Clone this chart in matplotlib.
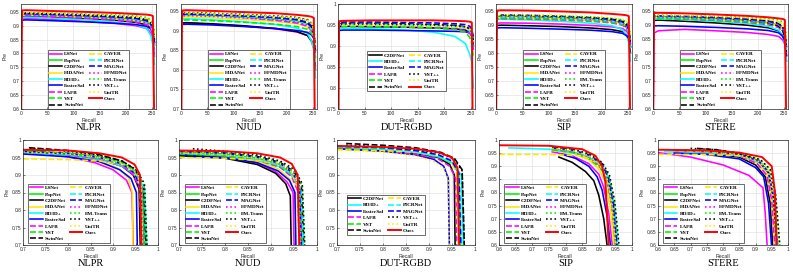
import matplotlib
matplotlib.use('Agg')
import matplotlib.pyplot as plt
from matplotlib.ticker import FormatStrFormatter, MultipleLocator

# ---------------- data ----------------
METHODS = ['LSNet', 'PopNet', 'C2DFNet', 'HiDANet', 'RD3D+', 'FasterSal', 'LAFB', 'VST', 'SwinNet',
           'CAVER', 'PICRNet', 'MAGNet', 'HFMDNet', 'EM-Trans', 'VST++', 'UniTR', 'Ours']
DUT_METHODS = ['C2DFNet', 'RD3D+', 'FasterSal', 'LAFB', 'VST', 'SwinNet',
               'CAVER', 'PICRNet', 'MAGNet', 'VST++', 'UniTR', 'Ours']
DATASETS = ['NLPR', 'NJUD', 'DUT-RGBD', 'SIP', 'STERE']

# threshold axis for the top row (precision vs threshold)
THRESH = [0, 2, 10, 60, 120, 180, 220, 240, 248, 252, 255]

NLPR_TOP = {
    'LSNet':     [0.90, 0.925, 0.926, 0.922, 0.916, 0.908, 0.900, 0.890, 0.875, 0.855, 0.79],
    'PopNet':    [0.92, 0.940, 0.941, 0.938, 0.934, 0.928, 0.922, 0.915, 0.905, 0.890, 0.84],
    'C2DFNet':   [0.91, 0.935, 0.936, 0.932, 0.927, 0.920, 0.912, 0.903, 0.890, 0.875, 0.83],
    'HiDANet':   [0.915, 0.937, 0.938, 0.935, 0.930, 0.924, 0.918, 0.910, 0.900, 0.885, 0.84],
    'RD3D+':     [0.88, 0.928, 0.930, 0.927, 0.921, 0.913, 0.904, 0.890, 0.865, 0.830, 0.76],
    'FasterSal': [0.90, 0.920, 0.921, 0.918, 0.914, 0.909, 0.904, 0.898, 0.888, 0.875, 0.84],
    'LAFB':      [0.915, 0.935, 0.936, 0.932, 0.927, 0.920, 0.913, 0.904, 0.890, 0.870, 0.80],
    'VST':       [0.92, 0.940, 0.941, 0.937, 0.932, 0.926, 0.920, 0.912, 0.900, 0.885, 0.83],
    'SwinNet':   [0.92, 0.943, 0.944, 0.941, 0.937, 0.932, 0.927, 0.920, 0.910, 0.895, 0.85],
    'CAVER':     [0.93, 0.945, 0.946, 0.943, 0.940, 0.936, 0.932, 0.927, 0.920, 0.910, 0.87],
    'PICRNet':   [0.92, 0.940, 0.941, 0.938, 0.934, 0.928, 0.922, 0.914, 0.900, 0.880, 0.81],
    'MAGNet':    [0.92, 0.942, 0.943, 0.940, 0.936, 0.931, 0.926, 0.918, 0.905, 0.890, 0.84],
    'HFMDNet':   [0.92, 0.938, 0.939, 0.936, 0.931, 0.925, 0.919, 0.911, 0.900, 0.885, 0.83],
    'EM-Trans':  [0.93, 0.946, 0.947, 0.945, 0.942, 0.939, 0.935, 0.930, 0.923, 0.912, 0.88],
    'VST++':     [0.925, 0.945, 0.946, 0.943, 0.940, 0.935, 0.930, 0.923, 0.912, 0.898, 0.85],
    'UniTR':     [0.93, 0.946, 0.947, 0.944, 0.940, 0.936, 0.931, 0.925, 0.915, 0.900, 0.86],
    'Ours':      [0.50, 0.955, 0.956, 0.953, 0.950, 0.946, 0.942, 0.940, 0.938, 0.935, 0.50],
}
NJUD_TOP = {
    'LSNet':     [0.90, 0.918, 0.920, 0.917, 0.912, 0.905, 0.897, 0.888, 0.875, 0.860, 0.81],
    'PopNet':    [0.92, 0.940, 0.941, 0.939, 0.935, 0.930, 0.925, 0.918, 0.908, 0.895, 0.85],
    'C2DFNet':   [0.90, 0.920, 0.921, 0.918, 0.913, 0.906, 0.898, 0.888, 0.872, 0.855, 0.80],
    'HiDANet':   [0.915, 0.935, 0.936, 0.933, 0.929, 0.924, 0.918, 0.910, 0.898, 0.882, 0.83],
    'RD3D+':     [0.90, 0.930, 0.931, 0.928, 0.923, 0.916, 0.907, 0.893, 0.872, 0.850, 0.78],
    'FasterSal': [0.90, 0.916, 0.917, 0.915, 0.911, 0.906, 0.901, 0.896, 0.889, 0.880, 0.85],
    'LAFB':      [0.925, 0.945, 0.944, 0.940, 0.934, 0.927, 0.920, 0.912, 0.900, 0.885, 0.83],
    'VST':       [0.91, 0.927, 0.928, 0.926, 0.922, 0.917, 0.911, 0.904, 0.893, 0.880, 0.83],
    'SwinNet':   [0.92, 0.942, 0.943, 0.941, 0.938, 0.933, 0.928, 0.920, 0.908, 0.890, 0.84],
    'CAVER':     [0.93, 0.944, 0.945, 0.943, 0.940, 0.936, 0.932, 0.927, 0.918, 0.905, 0.86],
    'PICRNet':   [0.92, 0.940, 0.941, 0.939, 0.935, 0.930, 0.924, 0.916, 0.902, 0.885, 0.82],
    'MAGNet':    [0.92, 0.942, 0.943, 0.941, 0.938, 0.934, 0.929, 0.922, 0.912, 0.898, 0.86],
    'HFMDNet':   [0.92, 0.938, 0.939, 0.937, 0.933, 0.928, 0.922, 0.915, 0.903, 0.888, 0.84],
    'EM-Trans':  [0.93, 0.945, 0.946, 0.944, 0.941, 0.938, 0.934, 0.929, 0.920, 0.908, 0.87],
    'VST++':     [0.93, 0.946, 0.947, 0.945, 0.942, 0.938, 0.934, 0.928, 0.917, 0.902, 0.86],
    'UniTR':     [0.93, 0.945, 0.946, 0.944, 0.941, 0.937, 0.933, 0.927, 0.918, 0.905, 0.86],
    'Ours':      [0.50, 0.952, 0.953, 0.951, 0.948, 0.945, 0.941, 0.938, 0.936, 0.933, 0.50],
}
DUT_TOP = {
    'C2DFNet':   [0.93, 0.945, 0.946, 0.945, 0.944, 0.942, 0.940, 0.937, 0.932, 0.925, 0.90],
    'RD3D+':     [0.91, 0.940, 0.941, 0.940, 0.938, 0.932, 0.922, 0.905, 0.880, 0.860, 0.80],
    'FasterSal': [0.92, 0.936, 0.937, 0.937, 0.936, 0.935, 0.934, 0.933, 0.930, 0.927, 0.91],
    'LAFB':      [0.93, 0.945, 0.946, 0.946, 0.945, 0.943, 0.940, 0.936, 0.930, 0.920, 0.89],
    'VST':       [0.93, 0.944, 0.945, 0.945, 0.944, 0.942, 0.938, 0.932, 0.920, 0.905, 0.87],
    'SwinNet':   [0.935, 0.952, 0.953, 0.953, 0.952, 0.950, 0.948, 0.945, 0.940, 0.933, 0.91],
    'CAVER':     [0.935, 0.948, 0.949, 0.949, 0.948, 0.947, 0.945, 0.943, 0.940, 0.935, 0.92],
    'PICRNet':   [0.935, 0.950, 0.951, 0.951, 0.950, 0.948, 0.945, 0.941, 0.935, 0.927, 0.90],
    'MAGNet':    [0.94, 0.955, 0.956, 0.956, 0.955, 0.954, 0.952, 0.950, 0.946, 0.940, 0.92],
    'VST++':     [0.935, 0.950, 0.951, 0.951, 0.950, 0.949, 0.947, 0.944, 0.940, 0.933, 0.91],
    'UniTR':     [0.935, 0.948, 0.949, 0.949, 0.948, 0.947, 0.945, 0.942, 0.938, 0.932, 0.91],
    'Ours':      [0.50, 0.958, 0.959, 0.960, 0.960, 0.960, 0.959, 0.958, 0.957, 0.955, 0.50],
}
SIP_TOP = {
    'LSNet':     [0.89, 0.905, 0.906, 0.905, 0.902, 0.897, 0.892, 0.886, 0.876, 0.865, 0.82],
    'PopNet':    [0.91, 0.928, 0.929, 0.928, 0.925, 0.920, 0.914, 0.907, 0.895, 0.880, 0.83],
    'C2DFNet':   [0.88, 0.897, 0.898, 0.896, 0.893, 0.888, 0.882, 0.875, 0.863, 0.850, 0.80],
    'HiDANet':   [0.905, 0.922, 0.923, 0.922, 0.919, 0.915, 0.910, 0.904, 0.894, 0.880, 0.83],
    'RD3D+':     [0.89, 0.918, 0.919, 0.917, 0.912, 0.905, 0.896, 0.882, 0.860, 0.835, 0.77],
    'FasterSal': [0.87, 0.888, 0.889, 0.887, 0.884, 0.880, 0.875, 0.869, 0.860, 0.850, 0.82],
    'LAFB':      [0.905, 0.920, 0.921, 0.920, 0.917, 0.912, 0.906, 0.898, 0.885, 0.870, 0.82],
    'VST':       [0.905, 0.922, 0.923, 0.922, 0.919, 0.914, 0.908, 0.900, 0.888, 0.872, 0.82],
    'SwinNet':   [0.91, 0.930, 0.931, 0.930, 0.927, 0.922, 0.915, 0.905, 0.890, 0.873, 0.82],
    'CAVER':     [0.915, 0.932, 0.933, 0.932, 0.930, 0.926, 0.921, 0.915, 0.905, 0.893, 0.85],
    'PICRNet':   [0.91, 0.928, 0.929, 0.928, 0.925, 0.920, 0.913, 0.904, 0.890, 0.872, 0.81],
    'MAGNet':    [0.915, 0.933, 0.934, 0.933, 0.930, 0.925, 0.919, 0.911, 0.898, 0.882, 0.83],
    'HFMDNet':   [0.91, 0.927, 0.928, 0.927, 0.924, 0.919, 0.913, 0.905, 0.893, 0.878, 0.83],
    'EM-Trans':  [0.915, 0.930, 0.931, 0.931, 0.929, 0.926, 0.922, 0.917, 0.909, 0.898, 0.86],
    'VST++':     [0.915, 0.933, 0.934, 0.933, 0.930, 0.926, 0.920, 0.913, 0.900, 0.885, 0.84],
    'UniTR':     [0.915, 0.935, 0.936, 0.935, 0.933, 0.929, 0.925, 0.919, 0.910, 0.898, 0.86],
    'Ours':      [0.50, 0.950, 0.951, 0.950, 0.947, 0.943, 0.938, 0.935, 0.933, 0.930, 0.50],
}
STERE_TOP = {
    'LSNet':     [0.50, 0.870, 0.878, 0.883, 0.878, 0.872, 0.865, 0.858, 0.845, 0.830, 0.77],
    'PopNet':    [0.91, 0.928, 0.929, 0.927, 0.922, 0.915, 0.907, 0.898, 0.885, 0.870, 0.82],
    'C2DFNet':   [0.90, 0.915, 0.916, 0.912, 0.906, 0.898, 0.889, 0.878, 0.860, 0.840, 0.79],
    'HiDANet':   [0.905, 0.922, 0.923, 0.921, 0.917, 0.911, 0.904, 0.896, 0.884, 0.870, 0.82],
    'RD3D+':     [0.90, 0.920, 0.921, 0.918, 0.912, 0.904, 0.894, 0.880, 0.858, 0.835, 0.77],
    'FasterSal': [0.88, 0.895, 0.896, 0.894, 0.890, 0.885, 0.879, 0.871, 0.858, 0.842, 0.79],
    'LAFB':      [0.905, 0.922, 0.923, 0.920, 0.915, 0.908, 0.900, 0.890, 0.875, 0.858, 0.80],
    'VST':       [0.905, 0.921, 0.922, 0.920, 0.916, 0.910, 0.903, 0.894, 0.880, 0.863, 0.81],
    'SwinNet':   [0.91, 0.928, 0.929, 0.927, 0.922, 0.915, 0.906, 0.895, 0.878, 0.858, 0.80],
    'CAVER':     [0.915, 0.930, 0.931, 0.930, 0.927, 0.922, 0.917, 0.910, 0.900, 0.887, 0.84],
    'PICRNet':   [0.91, 0.925, 0.926, 0.925, 0.921, 0.915, 0.908, 0.900, 0.886, 0.870, 0.81],
    'MAGNet':    [0.915, 0.930, 0.931, 0.929, 0.925, 0.919, 0.912, 0.903, 0.890, 0.874, 0.82],
    'HFMDNet':   [0.91, 0.926, 0.927, 0.925, 0.921, 0.915, 0.908, 0.900, 0.887, 0.872, 0.82],
    'EM-Trans':  [0.915, 0.930, 0.931, 0.931, 0.929, 0.926, 0.922, 0.917, 0.909, 0.899, 0.86],
    'VST++':     [0.915, 0.932, 0.933, 0.931, 0.927, 0.921, 0.914, 0.905, 0.890, 0.873, 0.82],
    'UniTR':     [0.915, 0.932, 0.933, 0.932, 0.929, 0.924, 0.918, 0.911, 0.900, 0.886, 0.84],
    'Ours':      [0.50, 0.941, 0.942, 0.940, 0.936, 0.931, 0.926, 0.922, 0.920, 0.917, 0.50],
}

# bottom row: precision-recall curves, (recall list, precision list)
NLPR_PR = {
    'LSNet':     ([0.72, 0.80, 0.86, 0.90, 0.930, 0.942, 0.948], [0.965, 0.952, 0.935, 0.915, 0.885, 0.85, 0.55]),
    'PopNet':    ([0.70, 0.80, 0.87, 0.92, 0.950, 0.965, 0.972], [0.968, 0.962, 0.952, 0.935, 0.910, 0.87, 0.55]),
    'C2DFNet':   ([0.70, 0.80, 0.87, 0.92, 0.945, 0.958, 0.963], [0.965, 0.958, 0.945, 0.925, 0.900, 0.86, 0.55]),
    'HiDANet':   ([0.70, 0.80, 0.87, 0.91, 0.935, 0.943, 0.945], [0.962, 0.955, 0.940, 0.920, 0.890, 0.85, 0.55]),
    'RD3D+':     ([0.70, 0.80, 0.87, 0.92, 0.950, 0.968, 0.978], [0.962, 0.956, 0.945, 0.925, 0.900, 0.86, 0.55]),
    'FasterSal': ([0.70, 0.80, 0.87, 0.915, 0.940, 0.952, 0.956], [0.960, 0.952, 0.938, 0.915, 0.890, 0.85, 0.55]),
    'LAFB':      ([0.70, 0.80, 0.87, 0.92, 0.945, 0.960, 0.968], [0.966, 0.958, 0.946, 0.928, 0.900, 0.86, 0.55]),
    'VST':       ([0.70, 0.80, 0.87, 0.92, 0.950, 0.967, 0.975], [0.966, 0.960, 0.948, 0.930, 0.905, 0.86, 0.55]),
    'SwinNet':   ([0.713, 0.80, 0.87, 0.92, 0.950, 0.968, 0.978], [0.978, 0.970, 0.958, 0.940, 0.915, 0.87, 0.55]),
    'CAVER':     ([0.70, 0.80, 0.87, 0.92, 0.945, 0.960, 0.966], [0.946, 0.944, 0.940, 0.930, 0.910, 0.87, 0.55]),
    'PICRNet':   ([0.70, 0.80, 0.87, 0.92, 0.950, 0.970, 0.980], [0.966, 0.960, 0.948, 0.930, 0.905, 0.86, 0.55]),
    'MAGNet':    ([0.70, 0.80, 0.87, 0.92, 0.948, 0.962, 0.966], [0.968, 0.962, 0.950, 0.932, 0.905, 0.86, 0.55]),
    'HFMDNet':   ([0.70, 0.80, 0.87, 0.92, 0.950, 0.965, 0.972], [0.966, 0.960, 0.948, 0.930, 0.905, 0.865, 0.55]),
    'EM-Trans':  ([0.70, 0.80, 0.87, 0.92, 0.952, 0.970, 0.980], [0.968, 0.962, 0.952, 0.935, 0.910, 0.87, 0.55]),
    'VST++':     ([0.715, 0.80, 0.87, 0.92, 0.952, 0.970, 0.980], [0.977, 0.968, 0.956, 0.940, 0.915, 0.875, 0.55]),
    'UniTR':     ([0.70, 0.80, 0.87, 0.92, 0.950, 0.963, 0.968], [0.965, 0.960, 0.950, 0.933, 0.908, 0.87, 0.55]),
    'Ours':      ([0.70, 0.80, 0.87, 0.92, 0.948, 0.960, 0.965], [0.972, 0.970, 0.962, 0.950, 0.930, 0.90, 0.55]),
}
NJUD_PR = {
    'LSNet':     ([0.70, 0.80, 0.87, 0.91, 0.935, 0.948, 0.952], [0.962, 0.952, 0.935, 0.910, 0.880, 0.85, 0.55]),
    'PopNet':    ([0.70, 0.80, 0.87, 0.92, 0.945, 0.960, 0.968], [0.965, 0.960, 0.948, 0.930, 0.900, 0.86, 0.55]),
    'C2DFNet':   ([0.70, 0.80, 0.87, 0.91, 0.932, 0.942, 0.946], [0.955, 0.948, 0.930, 0.905, 0.875, 0.84, 0.55]),
    'HiDANet':   ([0.70, 0.80, 0.87, 0.915, 0.940, 0.952, 0.956], [0.962, 0.955, 0.940, 0.918, 0.890, 0.85, 0.55]),
    'RD3D+':     ([0.70, 0.80, 0.87, 0.92, 0.948, 0.965, 0.974], [0.960, 0.955, 0.943, 0.923, 0.895, 0.85, 0.55]),
    'FasterSal': ([0.70, 0.80, 0.87, 0.915, 0.940, 0.952, 0.956], [0.958, 0.950, 0.935, 0.912, 0.885, 0.85, 0.55]),
    'LAFB':      ([0.70, 0.80, 0.87, 0.92, 0.945, 0.958, 0.965], [0.963, 0.956, 0.943, 0.922, 0.895, 0.855, 0.55]),
    'VST':       ([0.70, 0.80, 0.87, 0.92, 0.945, 0.962, 0.970], [0.960, 0.955, 0.943, 0.925, 0.900, 0.86, 0.55]),
    'SwinNet':   ([0.70, 0.80, 0.87, 0.92, 0.950, 0.966, 0.976], [0.968, 0.963, 0.953, 0.936, 0.910, 0.87, 0.55]),
    'CAVER':     ([0.70, 0.80, 0.87, 0.92, 0.945, 0.958, 0.964], [0.950, 0.948, 0.942, 0.930, 0.905, 0.865, 0.55]),
    'PICRNet':   ([0.70, 0.80, 0.87, 0.92, 0.948, 0.965, 0.975], [0.965, 0.960, 0.948, 0.928, 0.900, 0.86, 0.55]),
    'MAGNet':    ([0.70, 0.80, 0.87, 0.92, 0.948, 0.962, 0.970], [0.967, 0.962, 0.951, 0.933, 0.905, 0.865, 0.55]),
    'HFMDNet':   ([0.70, 0.80, 0.87, 0.92, 0.948, 0.962, 0.970], [0.965, 0.960, 0.948, 0.930, 0.903, 0.862, 0.55]),
    'EM-Trans':  ([0.70, 0.80, 0.87, 0.92, 0.950, 0.968, 0.978], [0.966, 0.962, 0.952, 0.935, 0.910, 0.87, 0.55]),
    'VST++':     ([0.73, 0.80, 0.87, 0.92, 0.952, 0.968, 0.978], [0.975, 0.968, 0.957, 0.940, 0.915, 0.875, 0.55]),
    'UniTR':     ([0.70, 0.80, 0.87, 0.92, 0.948, 0.960, 0.966], [0.963, 0.958, 0.948, 0.932, 0.905, 0.865, 0.55]),
    'Ours':      ([0.70, 0.80, 0.87, 0.92, 0.945, 0.958, 0.964], [0.970, 0.968, 0.962, 0.950, 0.932, 0.90, 0.55]),
}
DUT_PR = {
    'C2DFNet':   ([0.70, 0.80, 0.87, 0.92, 0.945, 0.955, 0.958], [0.975, 0.970, 0.962, 0.950, 0.930, 0.90, 0.55]),
    'RD3D+':     ([0.70, 0.80, 0.87, 0.92, 0.950, 0.970, 0.978], [0.978, 0.973, 0.965, 0.952, 0.935, 0.90, 0.55]),
    'FasterSal': ([0.70, 0.80, 0.87, 0.91, 0.932, 0.942, 0.946], [0.975, 0.968, 0.958, 0.945, 0.925, 0.89, 0.55]),
    'LAFB':      ([0.70, 0.80, 0.87, 0.92, 0.945, 0.958, 0.963], [0.975, 0.970, 0.960, 0.946, 0.925, 0.89, 0.55]),
    'VST':       ([0.70, 0.80, 0.87, 0.92, 0.950, 0.965, 0.972], [0.978, 0.973, 0.965, 0.952, 0.933, 0.90, 0.55]),
    'SwinNet':   ([0.72, 0.80, 0.87, 0.925, 0.955, 0.972, 0.980], [0.990, 0.985, 0.978, 0.965, 0.948, 0.915, 0.55]),
    'CAVER':     ([0.70, 0.80, 0.87, 0.92, 0.948, 0.960, 0.966], [0.972, 0.970, 0.965, 0.955, 0.937, 0.905, 0.55]),
    'PICRNet':   ([0.70, 0.80, 0.87, 0.92, 0.950, 0.966, 0.974], [0.980, 0.975, 0.967, 0.955, 0.937, 0.905, 0.55]),
    'MAGNet':    ([0.70, 0.80, 0.87, 0.92, 0.950, 0.965, 0.972], [0.982, 0.978, 0.970, 0.958, 0.940, 0.905, 0.55]),
    'VST++':     ([0.72, 0.80, 0.87, 0.925, 0.955, 0.972, 0.980], [0.985, 0.980, 0.973, 0.962, 0.945, 0.912, 0.55]),
    'UniTR':     ([0.70, 0.80, 0.87, 0.91, 0.932, 0.942, 0.945], [0.972, 0.966, 0.955, 0.940, 0.920, 0.885, 0.55]),
    'Ours':      ([0.70, 0.80, 0.87, 0.92, 0.950, 0.962, 0.968], [0.983, 0.980, 0.975, 0.965, 0.950, 0.92, 0.55]),
}
SIP_PR = {
    'LSNet':     ([0.76, 0.82, 0.87, 0.90, 0.915, 0.930, 0.945], [0.955, 0.940, 0.910, 0.870, 0.820, 0.72, 0.55]),
    'PopNet':    ([0.76, 0.82, 0.87, 0.905, 0.925, 0.940, 0.955], [0.965, 0.955, 0.935, 0.900, 0.850, 0.75, 0.55]),
    'C2DFNet':   ([0.78, 0.82, 0.86, 0.885, 0.900, 0.915, 0.930], [0.935, 0.915, 0.880, 0.845, 0.790, 0.70, 0.55]),
    'HiDANet':   ([0.76, 0.82, 0.87, 0.90, 0.920, 0.935, 0.950], [0.960, 0.950, 0.925, 0.890, 0.840, 0.74, 0.55]),
    'RD3D+':     ([0.63, 0.75, 0.85, 0.90, 0.925, 0.942, 0.958], [0.970, 0.965, 0.945, 0.915, 0.870, 0.77, 0.55]),
    'FasterSal': ([0.79, 0.83, 0.87, 0.895, 0.910, 0.925, 0.940], [0.945, 0.930, 0.900, 0.860, 0.810, 0.71, 0.55]),
    'LAFB':      ([0.76, 0.82, 0.87, 0.905, 0.925, 0.940, 0.955], [0.965, 0.955, 0.930, 0.895, 0.845, 0.75, 0.55]),
    'VST':       ([0.76, 0.82, 0.87, 0.905, 0.925, 0.940, 0.953], [0.963, 0.953, 0.930, 0.895, 0.845, 0.75, 0.55]),
    'SwinNet':   ([0.76, 0.82, 0.87, 0.91, 0.930, 0.945, 0.960], [0.970, 0.962, 0.943, 0.910, 0.860, 0.76, 0.55]),
    'CAVER':     ([0.60, 0.75, 0.85, 0.90, 0.925, 0.940, 0.955], [0.945, 0.945, 0.940, 0.910, 0.860, 0.76, 0.55]),
    'PICRNet':   ([0.76, 0.82, 0.87, 0.91, 0.930, 0.945, 0.962], [0.968, 0.960, 0.940, 0.905, 0.855, 0.76, 0.55]),
    'MAGNet':    ([0.76, 0.82, 0.87, 0.91, 0.928, 0.943, 0.958], [0.970, 0.962, 0.943, 0.908, 0.858, 0.76, 0.55]),
    'HFMDNet':   ([0.76, 0.82, 0.87, 0.905, 0.925, 0.940, 0.955], [0.968, 0.958, 0.937, 0.900, 0.850, 0.75, 0.55]),
    'EM-Trans':  ([0.76, 0.82, 0.87, 0.91, 0.930, 0.948, 0.963], [0.970, 0.963, 0.945, 0.912, 0.865, 0.765, 0.55]),
    'VST++':     ([0.76, 0.82, 0.87, 0.91, 0.932, 0.948, 0.965], [0.972, 0.965, 0.948, 0.915, 0.868, 0.765, 0.55]),
    'UniTR':     ([0.76, 0.82, 0.87, 0.905, 0.925, 0.940, 0.955], [0.968, 0.960, 0.940, 0.905, 0.855, 0.755, 0.55]),
    'Ours':      ([0.60, 0.75, 0.85, 0.89, 0.910, 0.920, 0.932], [0.980, 0.978, 0.965, 0.940, 0.900, 0.84, 0.55]),
}
STERE_PR = {
    'LSNet':     ([0.60, 0.70, 0.80, 0.88, 0.923, 0.930, 0.938], [0.952, 0.935, 0.905, 0.865, 0.818, 0.72, 0.55]),
    'PopNet':    ([0.65, 0.75, 0.85, 0.91, 0.940, 0.955, 0.968], [0.962, 0.958, 0.946, 0.920, 0.880, 0.78, 0.55]),
    'C2DFNet':   ([0.65, 0.75, 0.85, 0.90, 0.930, 0.945, 0.955], [0.955, 0.950, 0.935, 0.905, 0.860, 0.76, 0.55]),
    'HiDANet':   ([0.65, 0.75, 0.85, 0.905, 0.935, 0.950, 0.962], [0.958, 0.953, 0.940, 0.912, 0.870, 0.77, 0.55]),
    'RD3D+':     ([0.62, 0.75, 0.85, 0.91, 0.940, 0.958, 0.970], [0.955, 0.952, 0.940, 0.915, 0.875, 0.78, 0.55]),
    'FasterSal': ([0.65, 0.75, 0.85, 0.90, 0.925, 0.940, 0.952], [0.950, 0.945, 0.928, 0.895, 0.860, 0.76, 0.55]),
    'LAFB':      ([0.65, 0.75, 0.85, 0.905, 0.935, 0.950, 0.962], [0.960, 0.955, 0.940, 0.910, 0.865, 0.77, 0.55]),
    'VST':       ([0.65, 0.75, 0.85, 0.91, 0.940, 0.955, 0.968], [0.962, 0.957, 0.944, 0.918, 0.875, 0.775, 0.55]),
    'SwinNet':   ([0.72, 0.78, 0.85, 0.91, 0.940, 0.956, 0.970], [0.968, 0.963, 0.948, 0.920, 0.875, 0.775, 0.55]),
    'CAVER':     ([0.60, 0.75, 0.85, 0.91, 0.940, 0.958, 0.972], [0.945, 0.945, 0.940, 0.920, 0.885, 0.79, 0.55]),
    'PICRNet':   ([0.65, 0.75, 0.85, 0.91, 0.940, 0.957, 0.972], [0.962, 0.958, 0.946, 0.920, 0.880, 0.78, 0.55]),
    'MAGNet':    ([0.65, 0.75, 0.85, 0.91, 0.940, 0.956, 0.968], [0.963, 0.958, 0.946, 0.920, 0.878, 0.78, 0.55]),
    'HFMDNet':   ([0.65, 0.75, 0.85, 0.91, 0.940, 0.956, 0.970], [0.962, 0.957, 0.945, 0.918, 0.877, 0.78, 0.55]),
    'EM-Trans':  ([0.65, 0.75, 0.85, 0.915, 0.945, 0.962, 0.978], [0.963, 0.959, 0.948, 0.925, 0.890, 0.79, 0.55]),
    'VST++':     ([0.70, 0.78, 0.85, 0.915, 0.945, 0.962, 0.978], [0.968, 0.963, 0.950, 0.925, 0.888, 0.79, 0.55]),
    'UniTR':     ([0.65, 0.75, 0.85, 0.91, 0.940, 0.955, 0.966], [0.960, 0.956, 0.944, 0.918, 0.878, 0.78, 0.55]),
    'Ours':      ([0.60, 0.75, 0.85, 0.92, 0.950, 0.960, 0.966], [0.963, 0.960, 0.952, 0.935, 0.900, 0.80, 0.55]),
}

TOP_DATA = [NLPR_TOP, NJUD_TOP, DUT_TOP, SIP_TOP, STERE_TOP]
BOT_DATA = [NLPR_PR, NJUD_PR, DUT_PR, SIP_PR, STERE_PR]
TOP_YLIM = [(0.6, 0.98), (0.7, 0.97), (0.75, 1.0), (0.6, 0.975), (0.6, 0.975)]
BOT_LIM = [(0.7, 1.0), (0.7, 1.0), (0.7, 1.0), (0.6, 1.0), (0.6, 1.0)]

# ---------------- styles ----------------
M, G, K, Y, C, B, R = '#ff00ff', '#00ee00', '#000000', '#ffe600', '#00ffff', '#0000ff', '#ff0000'
STYLE = {
    'LSNet': (M, '-'), 'PopNet': (G, '-'), 'C2DFNet': (K, '-'), 'HiDANet': (Y, '-'),
    'RD3D+': (C, '-'), 'FasterSal': (B, '-'), 'LAFB': (M, '--'), 'VST': (G, '--'),
    'SwinNet': (K, '--'), 'CAVER': (Y, '--'), 'PICRNet': (C, '--'), 'MAGNet': (B, '--'),
    'HFMDNet': (M, ':'), 'EM-Trans': (G, ':'), 'VST++': (K, ':'), 'UniTR': (Y, ':'),
    'Ours': (R, '-'),
}

W, H = 793, 272
fig = plt.figure(figsize=(W / 100, H / 100), dpi=100)

TOP_LEFT = [21, 181, 338, 496, 653]
TOP_RIGHT = [156, 317, 475, 632, 788]
BOT_LEFT = [23, 179, 337, 499, 658]
BOT_RIGHT = [158, 317, 475, 632, 788]
TOP_Y = (3.5, 109)
BOT_Y = (140, 245)

tick_font = dict(family='Liberation Sans', size=3.5)
leg_font = dict(family='Liberation Serif', weight='bold', size=3.8)
LEG_KW = dict(ncol=2, prop=leg_font, handlelength=2.4, handletextpad=0.4, columnspacing=0.7,
              labelspacing=0.32, borderpad=0.3, borderaxespad=0.0, fancybox=False)


def make_ax(l, r, yt, yb):
    return fig.add_axes([l / W, 1 - yb / H, (r - l) / W, (yb - yt) / H])


def style_ax(ax):
    ax.grid(True, color='#dcdcdc', linewidth=0.4)
    ax.set_axisbelow(True)
    for s in ax.spines.values():
        s.set_linewidth(0.5)
        s.set_color('#262626')
    ax.tick_params(direction='in', length=1.5, width=0.4, pad=1.2, colors='#262626')
    for lab in ax.get_xticklabels() + ax.get_yticklabels():
        lab.set_fontfamily(tick_font['family'])
        lab.set_fontsize(tick_font['size'])
    ax.set_xlabel('Recall', fontsize=3.8, family='Liberation Sans', labelpad=1.5, color='#262626')
    ax.set_ylabel('Pre', fontsize=3.8, family='Liberation Sans', labelpad=1.5, color='#262626')


def finish_legend(leg):
    leg.get_frame().set_edgecolor('black')
    leg.get_frame().set_linewidth(0.5)


for i, name in enumerate(DATASETS):
    methods = DUT_METHODS if name == 'DUT-RGBD' else METHODS
    # ---- top row ----
    ax = make_ax(TOP_LEFT[i], TOP_RIGHT[i], *TOP_Y)
    data = TOP_DATA[i]
    for m in methods:
        col, ls = STYLE[m]
        ax.plot(THRESH, data[m], color=col, linestyle=ls,
                linewidth=1.4 if m == 'Ours' else 1.15, label=m)
    ax.set_xlim(0, 258)
    ax.set_ylim(*TOP_YLIM[i])
    ax.xaxis.set_major_locator(MultipleLocator(50))
    ax.yaxis.set_major_locator(MultipleLocator(0.05))
    ax.yaxis.set_major_formatter(FormatStrFormatter('%g'))
    style_ax(ax)
    anchor = (0.5, 0.17) if name == 'DUT-RGBD' else (0.5, 0.0)
    finish_legend(ax.legend(loc='lower center', bbox_to_anchor=anchor, **LEG_KW))
    fig.text((TOP_LEFT[i] + TOP_RIGHT[i]) / 2 / W, 1 - 128 / H, name,
             family='Liberation Serif', fontsize=7.5, ha='center', va='center')

    # ---- bottom row ----
    ax = make_ax(BOT_LEFT[i], BOT_RIGHT[i], *BOT_Y)
    data = BOT_DATA[i]
    for m in methods:
        col, ls = STYLE[m]
        rr, pp = data[m]
        ax.plot(rr, pp, color=col, linestyle=ls,
                linewidth=1.4 if m == 'Ours' else 1.15, label=m)
    lo, hi = BOT_LIM[i]
    ax.set_xlim(lo, hi)
    ax.set_ylim(lo, hi)
    ax.xaxis.set_major_locator(MultipleLocator(0.05))
    ax.yaxis.set_major_locator(MultipleLocator(0.05))
    ax.xaxis.set_major_formatter(FormatStrFormatter('%g'))
    ax.yaxis.set_major_formatter(FormatStrFormatter('%g'))
    style_ax(ax)
    anchor = (0.07, 0.1) if name == 'DUT-RGBD' else (0.04, 0.02)
    finish_legend(ax.legend(loc='lower left', bbox_to_anchor=anchor, **LEG_KW))
    fig.text((BOT_LEFT[i] + BOT_RIGHT[i]) / 2 / W, 1 - 263 / H, name,
             family='Liberation Serif', fontsize=7.5, ha='center', va='center')

fig.savefig('out.png', dpi=100)
